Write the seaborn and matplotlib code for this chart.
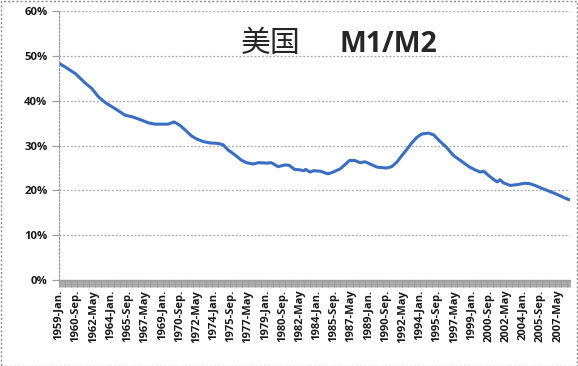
"""US M1/M2 ratio, monthly 1959-2008, redrawn in the look of an Excel line chart."""

import matplotlib
matplotlib.use("Agg")
import matplotlib.pyplot as plt
import matplotlib.ticker as mticker
from matplotlib.patches import Rectangle
import pandas as pd
import seaborn as sns

# readings (month, M1/M2 in %)
DATES = [
    "1959-01", "1959-08", "1960-08", "1961-08", "1962-03", "1962-11", "1963-07",
    "1964-06", "1965-06", "1966-03", "1967-01", "1967-09", "1968-05", "1969-08",
    "1970-03", "1970-10", "1971-05", "1971-11", "1972-05", "1973-01", "1973-09",
    "1974-06", "1974-12", "1975-06", "1976-02", "1976-09", "1977-03", "1977-11",
    "1978-05", "1979-03", "1979-08", "1980-04", "1980-12", "1981-05", "1981-11",
    "1982-05", "1982-10", "1982-12", "1983-05", "1983-09", "1984-05", "1985-02",
    "1985-08", "1986-04", "1986-10", "1987-03", "1987-09", "1988-03", "1988-09",
    "1989-03", "1989-11", "1990-10", "1991-04", "1991-10", "1992-04", "1992-09",
    "1993-03", "1993-09", "1994-03", "1994-11", "1995-05", "1995-12", "1996-08",
    "1997-04", "1997-12", "1998-10", "1999-05", "1999-11", "2000-03", "2000-09",
    "2001-03", "2001-07", "2001-10", "2002-02", "2002-10", "2003-06", "2004-03",
    "2004-09", "2005-03", "2005-09", "2006-05", "2007-01", "2007-08", "2008-04",
    "2008-07",
]
RATIO = [
    48.4, 47.6, 46.1, 43.9, 42.8, 40.9, 39.6,
    38.3, 36.8, 36.4, 35.7, 35.1, 34.8, 34.8,
    35.3, 34.5, 33.3, 32.2, 31.5, 30.9, 30.6,
    30.5, 30.2, 29.0, 27.9, 26.8, 26.2, 25.9,
    26.2, 26.1, 26.2, 25.3, 25.7, 25.6, 24.7,
    24.6, 24.4, 24.7, 24.1, 24.4, 24.3, 23.7,
    24.1, 24.8, 25.8, 26.7, 26.7, 26.2, 26.4,
    25.9, 25.2, 25.0, 25.3, 26.3, 27.8, 29.0,
    30.5, 31.8, 32.6, 32.8, 32.4, 31.0, 29.6,
    27.8, 26.7, 25.3, 24.6, 24.1, 24.3, 23.3,
    22.4, 21.9, 22.4, 21.7, 21.1, 21.3, 21.6,
    21.5, 21.1, 20.6, 20.0, 19.4, 18.8, 18.1,
    17.9,
]
# category labels shown on the axis (every 20th month)
TICK_LABELS = [
    "1959-Jan.", "1960-Sep.", "1962-May", "1964-Jan.", "1965-Sep.", "1967-May",
    "1969-Jan.", "1970-Sep.", "1972-May", "1974-Jan.", "1975-Sep.", "1977-May",
    "1979-Jan.", "1980-Sep.", "1982-May", "1984-Jan.", "1985-Sep.", "1987-May",
    "1989-Jan.", "1990-Sep.", "1992-May", "1994-Jan.", "1995-Sep.", "1997-May",
    "1999-Jan.", "2000-Sep.", "2002-May", "2004-Jan.", "2005-Sep.", "2007-May",
]
FIRST_MONTH = "1959-01"
LAST_MONTH = "2008-07"
TICK_STEP = 20

LINE_COLOR = "#3a6ec2"
GRID_COLOR = "#a6a6a6"
FONT = ["Open Sans", "DejaVu Sans"]


def month_index(s):
    p = pd.Period(s, freq="M")
    return (p - pd.Period(FIRST_MONTH, freq="M")).n


def main():
    df = pd.DataFrame({"date": DATES, "ratio": RATIO})
    df["m"] = df["date"].map(month_index)
    n_months = month_index(LAST_MONTH) + 1

    sns.set_theme(style="white")
    plt.rcParams["font.family"] = FONT

    fig = plt.figure(figsize=(5.78, 3.66), dpi=100)
    W, H = 578, 366
    ax = fig.add_axes([58.5 / W, 1 - 280 / H, (570 - 58.5) / W, (280 - 11.3) / H])

    sns.lineplot(data=df, x="m", y="ratio", ax=ax, color=LINE_COLOR, linewidth=2.2)

    ax.set_xlim(-0.5, n_months - 0.5)
    ax.set_ylim(0, 60)
    ax.set_xlabel("")
    ax.set_ylabel("")

    ax.yaxis.set_major_locator(mticker.MultipleLocator(10))
    ax.yaxis.set_major_formatter(mticker.FuncFormatter(lambda v, _: f"{v:.0f}%"))
    ax.grid(axis="y", color=GRID_COLOR, linestyle=(0, (1.5, 1.5)), linewidth=0.9)
    ax.grid(axis="x", visible=False)

    ax.set_xticks(range(0, TICK_STEP * len(TICK_LABELS), TICK_STEP))
    ax.set_xticklabels(TICK_LABELS, rotation=90, fontsize=8, fontweight="bold",
                       color="#1a1a1a")
    ax.set_xticks([i - 0.5 for i in range(n_months + 1)], minor=True)
    ax.tick_params(axis="x", which="major", length=0, pad=7)
    ax.tick_params(axis="x", which="minor", bottom=True, length=5, width=0.6,
                   color="#9a9a9a")
    ax.tick_params(axis="y", left=True, length=5, width=0.8, color="#9a9a9a",
                   labelsize=8.2, labelcolor="#1a1a1a", pad=3)
    for lab in ax.get_yticklabels():
        lab.set_fontweight("bold")

    for side in ("top", "right"):
        ax.spines[side].set_visible(False)
    ax.spines["left"].set_color("#9a9a9a")
    ax.spines["left"].set_linestyle((0, (1.5, 1.5)))
    ax.spines["left"].set_linewidth(0.9)
    ax.spines["bottom"].set_color("#9a9a9a")
    ax.spines["bottom"].set_linewidth(0.9)

    fig.text(241 / W, 1 - 51.5 / H, "美国", fontsize=21.5,
             family=["Noto Sans CJK SC", "DejaVu Sans"], fontweight="light",
             va="baseline", ha="left")
    fig.text(340 / W, 1 - 51.5 / H, "M1/M2", fontsize=20.5, fontweight="bold",
             va="baseline", ha="left")

    fig.patches.append(Rectangle((0.5 / W, 0.5 / H), (W - 1.5) / W, (H - 1.5) / H,
                                 transform=fig.transFigure, fill=False,
                                 edgecolor="#8c8c8c", linewidth=1,
                                 linestyle=(0, (1.5, 1.5))))

    fig.savefig("out.png", dpi=100)
    plt.close(fig)


if __name__ == "__main__":
    main()
